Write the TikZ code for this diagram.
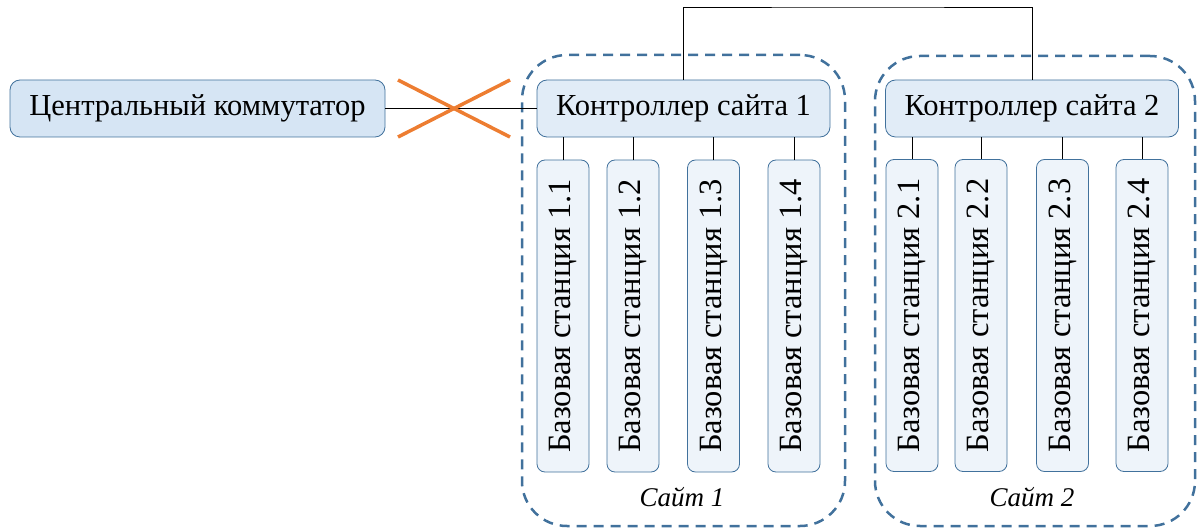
\documentclass[tikz,border=0pt]{standalone}
\usepackage{fontspec}
\setmainfont{Liberation Serif}
\usetikzlibrary{positioning, shapes}

\definecolor{bordblue}{HTML}{41719C}
\definecolor{fillsw}{HTML}{D6E5F4}
\definecolor{fillctl}{HTML}{E1ECF7}
\definecolor{fillbs}{HTML}{EEF4FA}
\definecolor{crossorange}{HTML}{ED7D31}

\begin{document}
\begin{tikzpicture}[x=1pt, y=-1pt]

% \draw[help lines] (0,0) grid (1200,529);
\useasboundingbox (0,0) rectangle (1200,529);

\tikzstyle{swbox}=[draw=bordblue, thick, fill=fillsw, shape=rectangle, rounded corners=10pt,
minimum width=375pt, minimum height=57pt, inner sep=0pt, font=\fontsize{30.5}{36}\selectfont];
\tikzstyle{ctlbox}=[draw=bordblue, thick, fill=fillctl, shape=rectangle, rounded corners=10pt,
minimum width=293pt, minimum height=57pt, inner sep=0pt, font=\fontsize{30.5}{36}\selectfont];
\tikzstyle{bsbox}=[draw=bordblue, thick, fill=fillbs, shape=rectangle, rounded corners=8pt,
minimum width=312pt, minimum height=52pt, inner sep=0pt, rotate=90, font=\fontsize{32.5}{38}\selectfont];
\tikzstyle{sitebox}=[draw=bordblue, line width=2.5pt, dash pattern=on 10pt off 7pt, shape=rectangle,
rounded corners=45pt, inner sep=0pt];

% sites
\node[sitebox, minimum width=323pt, minimum height=471pt] (s1) at (683.5,290.5) {};
\node[sitebox, minimum width=320pt, minimum height=470pt] (s2) at (1035,291) {};
\node[font=\itshape\fontsize{27}{32}\selectfont] (l1) at (682,497) {Сайт 1};
\node[font=\itshape\fontsize{27}{32}\selectfont] (l2) at (1032,497) {Сайт 2};

\node[swbox] (cs) at (197.5,108.5) {Центральный коммутатор};
\node[ctlbox] (c1) at (683.5,108.5) {Контроллер сайта 1};
\node[ctlbox] (c2) at (1032,108.5) {Контроллер сайта 2};

\node[bsbox] (b11) at (563,316) {Базовая станция 1.1};
\node[bsbox] (b12) at (633,316) {Базовая станция 1.2};
\node[bsbox] (b13) at (713.5,316) {Базовая станция 1.3};
\node[bsbox] (b14) at (794,316) {Базовая станция 1.4};

\node[bsbox] (b21) at (912,315.5) {Базовая станция 2.1};
\node[bsbox] (b22) at (981,315.5) {Базовая станция 2.2};
\node[bsbox] (b23) at (1062.5,315.5) {Базовая станция 2.3};
\node[bsbox] (b24) at (1142,315.5) {Базовая станция 2.4};

\coordinate (top) at (858,7);

% lines
\draw [thin] (cs) -- (c1);
\draw [thick] (c1.north) |- (top) -| (c2.north);
\foreach \b in {b11,b12,b13,b14}
  \draw [thin] (c1.south -| \b.east) -- (\b.east);
\foreach \b in {b21,b22,b23,b24}
  \draw [thin] (c2.south -| \b.east) -- (\b.east);

% cross
\draw [crossorange, line width=3.5pt] (398,80) -- (510,137);
\draw [crossorange, line width=3.5pt] (398,137) -- (510,80);

\end{tikzpicture}
\end{document}
